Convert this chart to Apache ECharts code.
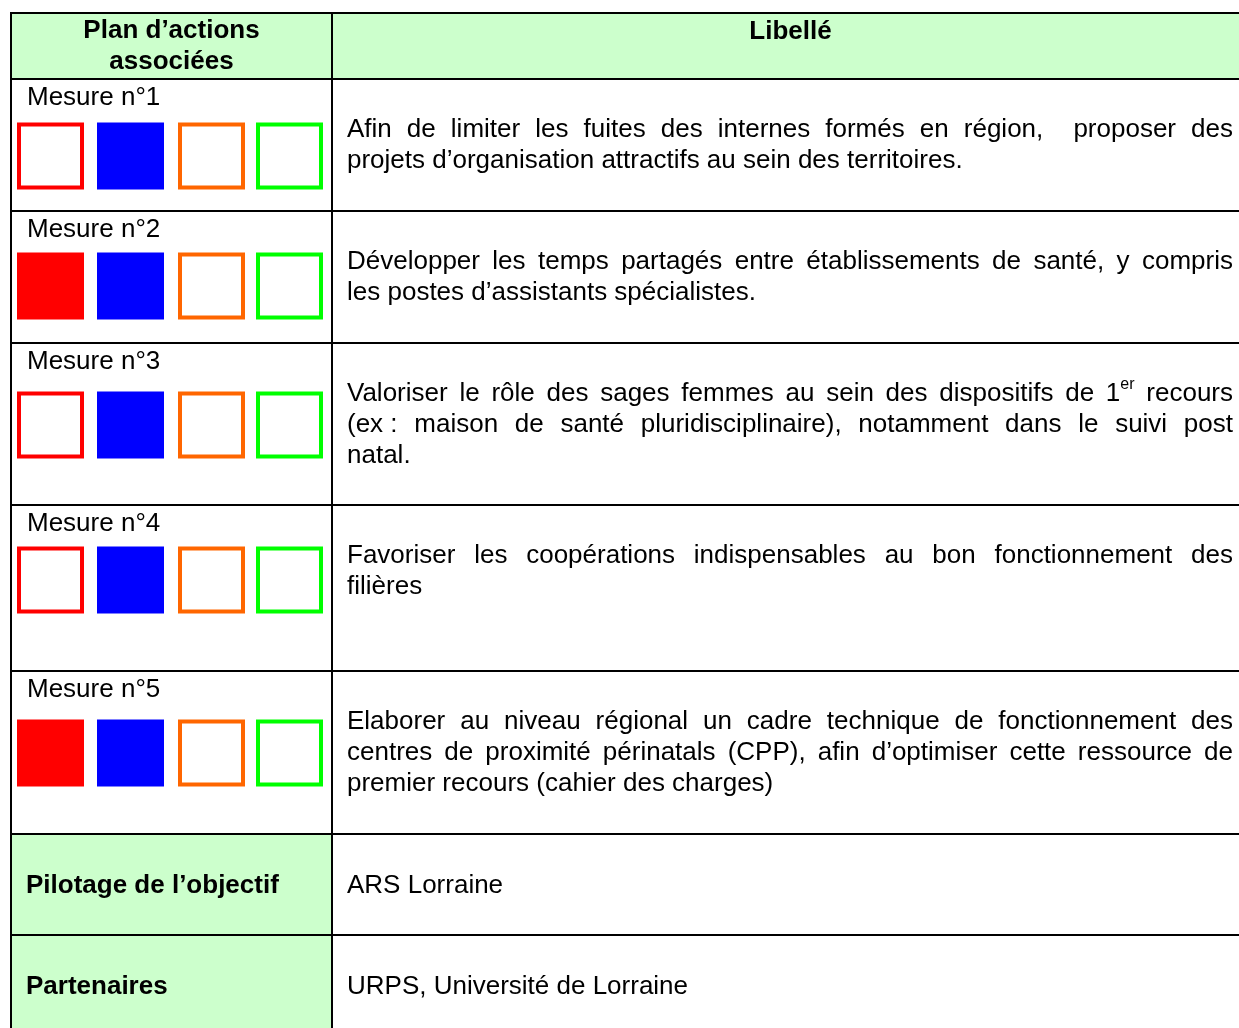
<!DOCTYPE html>
<html><head><meta charset="utf-8">
<style>html,body{margin:0;padding:0;background:#fff}#c{width:1239px;height:1028px}</style>
<script src="https://cdn.jsdelivr.net/npm/echarts@6/dist/echarts.min.js"></script>
</head><body><div id="c"></div>
<script>
// ---------- DATA ----------
const headerLeft = ['Plan d\u2019actions', 'associées'];
const headerRight = 'Libellé';
const measures = ['Mesure n°1', 'Mesure n°2', 'Mesure n°3', 'Mesure n°4', 'Mesure n°5'];
const libelles = [
  ['Afin de limiter les fuites des internes formés en région,  proposer des',
   'projets d\u2019organisation attractifs au sein des territoires.'],
  ['Développer les temps partagés entre établissements de santé, y compris',
   'les postes d\u2019assistants spécialistes.'],
  ['Valoriser le rôle des sages femmes au sein des dispositifs de 1^er recours',
   '(ex\u00a0: maison de santé pluridisciplinaire), notamment dans le suivi post',
   'natal.'],
  ['Favoriser les coopérations indispensables au bon fonctionnement des',
   'filières'],
  ['Elaborer au niveau régional un cadre technique de fonctionnement des',
   'centres de proximité périnatals (CPP), afin d\u2019optimiser cette ressource de',
   'premier recours (cahier des charges)']
];
// 1 = filled square, 0 = outlined square (red, blue, orange, green)
const squareFilled = [
  [0, 1, 0, 0],
  [1, 1, 0, 0],
  [0, 1, 0, 0],
  [0, 1, 0, 0],
  [1, 1, 0, 0]
];
const footerLabels = ['Pilotage de l\u2019objectif', 'Partenaires'];
const footerValues = ['ARS Lorraine', 'URPS, Université de Lorraine'];

// ---------- LAYOUT / STYLE ----------
const W = 1239, H = 1028;
const colX = [11, 332, 1249];
const rowY = [13, 79, 211, 343, 505, 671, 834, 935, 1045];
const squareColors = ['#FF0000', '#0000FF', '#FF6600', '#00FF00'];
const squareLeft = [17, 97, 178, 256];
const squareSize = 67;
const squareOffset = [77, 75, 82, 75, 82];
const GREEN = '#CCFFCC';
const FONT_FAMILY = '"Liberation Sans", Arial, sans-serif';
const FS = 26;
const FONT = FS + 'px ' + FONT_FAMILY;
const FONT_B = 'bold ' + FS + 'px ' + FONT_FAMILY;
const FONT_SUP = '16px ' + FONT_FAMILY;
const TEXT_L = 347, TEXT_R = 1233;
const LINE_H = 31, FIRST_LINE = 49;
const TEXT_DY = 2;

const mctx = document.createElement('canvas').getContext('2d');
function tw(t, f) { mctx.font = f; return mctx.measureText(t).width; }
function tokWidth(tok) {
  if (tok.indexOf('^') >= 0) { const p = tok.split('^'); return tw(p[0], FONT) + tw(p[1], FONT_SUP); }
  return tw(tok, FONT);
}

const chart = echarts.init(document.getElementById('c'), null, { renderer: 'canvas' });
const rowIdx = rowY.slice(0, -1).map((_, i) => i);

function P(api, x, y) { return api.coord([x, y]); }

function fillItem(params, api) {
  const r = api.value(0);
  const ch = [];
  const isHeader = r === 0, isFooter = r >= 6;
  const a = P(api, colX[0], rowY[r]), b = P(api, colX[1], rowY[r + 1]), c = P(api, colX[2], rowY[r + 1]);
  ch.push({ type: 'rect', shape: { x: a[0], y: a[1], width: b[0] - a[0], height: b[1] - a[1] },
    style: { fill: (isHeader || isFooter) ? GREEN : '#fff' } });
  ch.push({ type: 'rect', shape: { x: b[0], y: a[1], width: c[0] - b[0], height: b[1] - a[1] },
    style: { fill: isHeader ? GREEN : '#fff' } });
  return { type: 'group', children: ch };
}

function borderItem(params, api) {
  const r = api.value(0);
  const ch = [];
  const p1 = P(api, colX[0] - 1, rowY[r]), p2 = P(api, colX[2], rowY[r]);
  ch.push({ type: 'line', shape: { x1: p1[0], y1: p1[1], x2: p2[0], y2: p2[1] }, style: { stroke: '#000', lineWidth: 2 } });
  for (let k = 0; k < colX.length; k++) {
    const q1 = P(api, colX[k], rowY[r]), q2 = P(api, colX[k], rowY[r + 1]);
    ch.push({ type: 'line', shape: { x1: q1[0], y1: q1[1], x2: q2[0], y2: q2[1] }, style: { stroke: '#000', lineWidth: 2 } });
  }
  return { type: 'group', children: ch };
}

function squareItem(params, api) {
  const r = api.value(0), c = api.value(1), filled = api.value(2);
  const tl = P(api, squareLeft[c], rowY[r + 1] + squareOffset[r] - squareSize / 2);
  const br = P(api, squareLeft[c] + squareSize, rowY[r + 1] + squareOffset[r] + squareSize / 2);
  const w = br[0] - tl[0], h = br[1] - tl[1];
  if (filled) {
    return { type: 'rect', shape: { x: tl[0], y: tl[1], width: w, height: h }, style: { fill: squareColors[c] } };
  }
  return { type: 'rect', shape: { x: tl[0] + 2, y: tl[1] + 2, width: w - 4, height: h - 4 },
    style: { fill: '#fff', stroke: squareColors[c], lineWidth: 4 } };
}

function txt(x, y, t, font, align) {
  return { type: 'text', x: x, y: y + TEXT_DY, style: { text: t, font: font, fill: '#000', align: align || 'left', verticalAlign: 'middle' } };
}

function lineElems(api, line, yData, justify) {
  const out = [];
  const toks = justify ? line.split(' ') : [line];
  const widths = toks.map(tokWidth);
  const sp = tw(' ', FONT);
  let gap = sp;
  if (justify && toks.length > 1) {
    const natural = widths.reduce((s, v) => s + v, 0);
    gap = (TEXT_R - TEXT_L - natural) / (toks.length - 1);
  }
  let x = TEXT_L;
  toks.forEach((tok, i) => {
    const p = P(api, x, yData);
    if (tok.indexOf('^') >= 0) {
      const parts = tok.split('^');
      out.push(txt(p[0], p[1], parts[0], FONT));
      const bw = tw(parts[0], FONT);
      out.push(txt(p[0] + bw, p[1] - 9, parts[1], FONT_SUP));
    } else if (tok.length) {
      out.push(txt(p[0], p[1], tok, FONT));
    }
    x += widths[i] + gap;
  });
  return out;
}

function textItem(params, api) {
  const r = api.value(0);
  const ch = [];
  const top = rowY[r];
  const midL = (colX[0] + colX[1]) / 2, midR = (colX[1] + colX[2]) / 2;
  if (r === 0) {
    headerLeft.forEach((t, i) => { const p = P(api, midL, top + 16 + i * LINE_H); ch.push(txt(p[0], p[1], t, FONT_B, 'center')); });
    const p = P(api, midR, top + 17); ch.push(txt(p[0], p[1], headerRight, FONT_B, 'center'));
  } else if (r <= measures.length) {
    const m = r - 1;
    const p = P(api, 27, top + 17); ch.push(txt(p[0], p[1], measures[m], FONT));
    const lines = libelles[m];
    lines.forEach((ln, i) => {
      ch.push.apply(ch, lineElems(api, ln, top + FIRST_LINE + i * LINE_H, i < lines.length - 1));
    });
  } else {
    const f = r - 1 - measures.length;
    const p = P(api, 26, top + 50); ch.push(txt(p[0], p[1], footerLabels[f], FONT_B));
    const q = P(api, TEXT_L, top + 50); ch.push(txt(q[0], q[1], footerValues[f], FONT));
  }
  return { type: 'group', children: ch };
}

const squareData = [];
squareFilled.forEach((row, r) => row.forEach((f, c) => squareData.push([r, c, f])));

chart.setOption({
  animation: false,
  backgroundColor: '#fff',
  grid: { left: 0, right: 0, top: 0, bottom: 0 },
  xAxis: { type: 'value', min: 0, max: W, show: false },
  yAxis: { type: 'value', min: 0, max: H, inverse: true, show: false },
  series: [
    { type: 'custom', data: rowIdx.map(i => [i]), renderItem: fillItem, z: 1, silent: true },
    { type: 'custom', data: squareData, renderItem: squareItem, z: 2, silent: true },
    { type: 'custom', data: rowIdx.map(i => [i]), renderItem: textItem, z: 3, silent: true },
    { type: 'custom', data: rowIdx.map(i => [i]), renderItem: borderItem, z: 4, silent: true }
  ]
});
</script>
</body></html>
